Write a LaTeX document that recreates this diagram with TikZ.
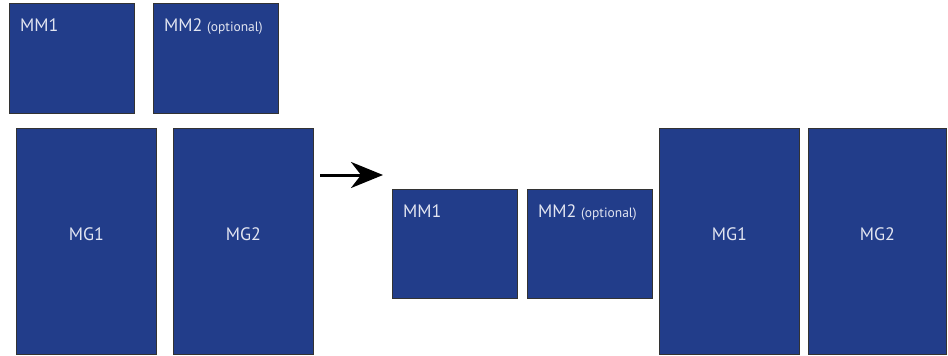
\documentclass[tikz,border=0pt]{standalone}
\usepackage{fontspec}
\setmainfont{PT Sans}
\usetikzlibrary{positioning,arrows.meta}
\definecolor{boxblue}{RGB}{34,61,138}
\definecolor{boxtext}{RGB}{226,229,241}
\newcommand{\optnote}{{\fontsize{13.5}{15}\selectfont(optional)}}
\begin{document}
\begin{tikzpicture}[
        x=1pt, y=-1pt,
        B/.style={draw=black!80, line width=.9pt, fill=boxblue, text=boxtext, inner sep=0pt,
            font=\fontsize{18}{21}\selectfont},
        M/.style={B, minimum width=125pt, minimum height=110pt},
        G/.style={B, minimum width=140pt, minimum height=226pt, text height=12pt, text depth=14pt},
        T/.style={text=boxtext, inner sep=0pt, anchor=base west, xshift=11pt, yshift=-28pt,
            font=\fontsize{18}{21}\selectfont}
      ]
      \useasboundingbox (0,0) rectangle (948,356);
      \node [M, anchor=north west, label={[T]north west:MM1}] (mm1a) at (9,3) {};
      \node [M, right=18pt of mm1a, label={[T]north west:MM2 \optnote}] (mm2a) {};
      \node [G, anchor=north west] (mg1a) at (16,128) {MG1};
      \node [G, right=16pt of mg1a] (mg2a) {MG2};
      \coordinate (arra) at (320,175);
      \coordinate (arrb) at (383,175);
      \draw [line width=3pt, -{Stealth[length=32pt, width=26pt, inset=10pt]}] (arra) -- (arrb);
      \node [M, anchor=north west, minimum height=109pt, label={[T]north west:MM1}] (mm1b) at (392,189) {};
      \node [M, right=9pt of mm1b, minimum height=109pt, label={[T]north west:MM2 \optnote}] (mm2b) {};
      \node [G, anchor=north west] (mg1b) at (659,128) {MG1};
      \node [G, right=8pt of mg1b, minimum width=138pt] (mg2b) {MG2};
    \end{tikzpicture}
\end{document}
